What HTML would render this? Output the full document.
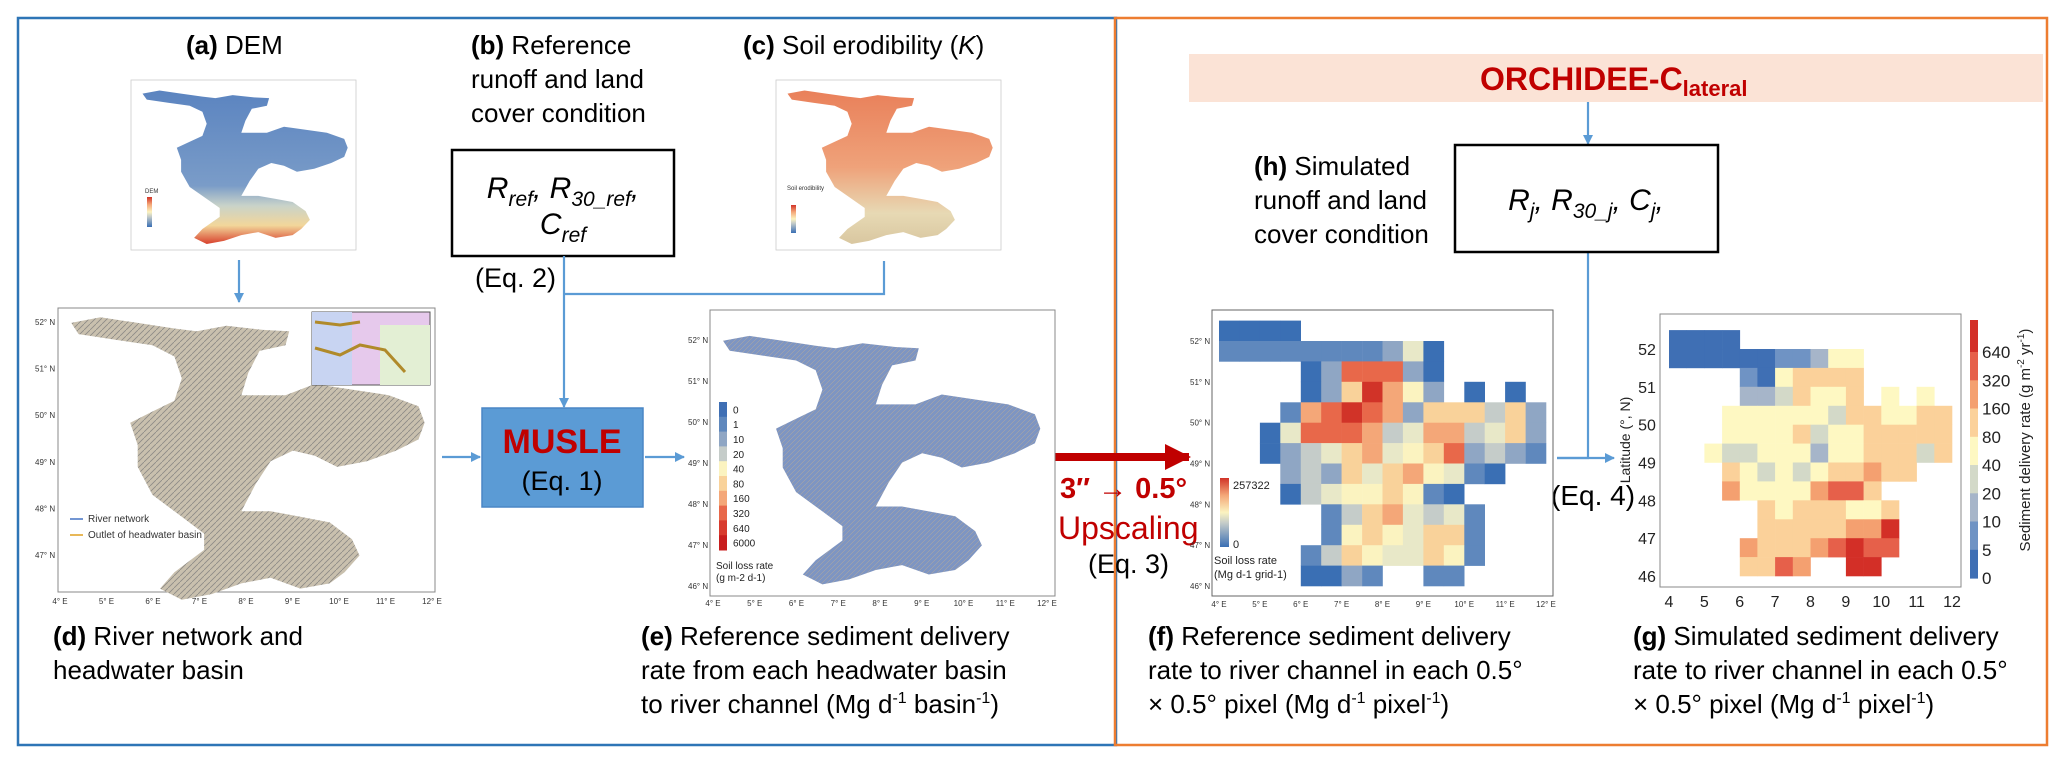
<!DOCTYPE html>
<html><head><meta charset="utf-8">
<style>
html,body{margin:0;padding:0;background:#fff;}
svg{display:block;font-family:"Liberation Sans",Arial,sans-serif;}
</style></head>
<body>
<svg id="fig" width="2067" height="764" viewBox="0 0 2067 764" xmlns="http://www.w3.org/2000/svg">
<defs>
<marker id="ah" markerWidth="10" markerHeight="10" refX="9" refY="5" orient="auto" markerUnits="userSpaceOnUse"><path d="M0,0 L10,5 L0,10 z" fill="#5b9bd5"/></marker>
<marker id="ahr" markerWidth="26" markerHeight="26" refX="24" refY="13" orient="auto" markerUnits="userSpaceOnUse"><path d="M0,0 L26,13 L0,26 z" fill="#c00000"/></marker>
<linearGradient id="demg" x1="0" y1="0" x2="0" y2="1">
<stop offset="0" stop-color="#5b84c0"/><stop offset="0.62" stop-color="#7a9cc8"/><stop offset="0.75" stop-color="#c9d3c9"/><stop offset="0.88" stop-color="#f2d69a"/><stop offset="1" stop-color="#d8402c"/></linearGradient>
<linearGradient id="kg" x1="0" y1="0" x2="0" y2="1">
<stop offset="0" stop-color="#e9805a"/><stop offset="0.5" stop-color="#efa27a"/><stop offset="0.8" stop-color="#e7d9b4"/><stop offset="1" stop-color="#d9c7a0"/></linearGradient>
<linearGradient id="fcb" x1="0" y1="1" x2="0" y2="0">
<stop offset="0" stop-color="#3a6fb4"/><stop offset="0.35" stop-color="#c5ccc9"/><stop offset="0.5" stop-color="#fbf3c0"/><stop offset="0.75" stop-color="#f4a778"/><stop offset="1" stop-color="#d13328"/></linearGradient>
<pattern id="tex" width="6" height="6" patternUnits="userSpaceOnUse"><rect width="6" height="6" fill="#c9c0ae"/><path d="M0,6 L6,0" stroke="#8c8a86" stroke-width="0.8"/></pattern>
<pattern id="texe" width="5" height="5" patternUnits="userSpaceOnUse"><rect width="5" height="5" fill="#7e95c2"/><path d="M0,5 L5,0" stroke="#b9aa95" stroke-width="0.5"/></pattern>
</defs>

<!-- panel boxes -->
<rect x="18" y="18" width="1098" height="727" fill="none" stroke="#2e75b6" stroke-width="2.5"/>
<rect x="1115" y="18" width="932" height="727" fill="none" stroke="#ed7d31" stroke-width="2.5"/>

<!-- titles -->
<g font-size="26" fill="#000">
<text x="186" y="54"><tspan font-weight="bold">(a)</tspan> DEM</text>
<text x="471" y="54"><tspan font-weight="bold">(b)</tspan> Reference</text>
<text x="471" y="88">runoff and land</text>
<text x="471" y="122">cover condition</text>
<text x="743" y="54"><tspan font-weight="bold">(c)</tspan> Soil erodibility (<tspan font-style="italic">K</tspan>)</text>
<text x="53" y="645"><tspan font-weight="bold">(d)</tspan> River network and</text>
<text x="53" y="679">headwater basin</text>
<text x="641" y="645"><tspan font-weight="bold">(e)</tspan> Reference sediment delivery</text>
<text x="641" y="679">rate from each headwater basin</text>
<text x="641" y="713">to river channel (Mg d<tspan font-size="16" dy="-10">-1</tspan><tspan dy="10"> basin</tspan><tspan font-size="16" dy="-10">-1</tspan><tspan dy="10">)</tspan></text>
<text x="1148" y="645"><tspan font-weight="bold">(f)</tspan> Reference sediment delivery</text>
<text x="1148" y="679">rate to river channel in each 0.5°</text>
<text x="1148" y="713">× 0.5° pixel (Mg d<tspan font-size="16" dy="-10">-1</tspan><tspan dy="10"> pixel</tspan><tspan font-size="16" dy="-10">-1</tspan><tspan dy="10">)</tspan></text>
<text x="1633" y="645"><tspan font-weight="bold">(g)</tspan> Simulated sediment delivery</text>
<text x="1633" y="679">rate to river channel in each 0.5°</text>
<text x="1633" y="713">× 0.5° pixel (Mg d<tspan font-size="16" dy="-10">-1</tspan><tspan dy="10"> pixel</tspan><tspan font-size="16" dy="-10">-1</tspan><tspan dy="10">)</tspan></text>
<text x="1254" y="175"><tspan font-weight="bold">(h)</tspan> Simulated</text>
<text x="1254" y="209">runoff and land</text>
<text x="1254" y="243">cover condition</text>
</g>

<!-- reference input box -->
<rect x="452" y="150" width="222" height="106" fill="#fff" stroke="#000" stroke-width="2.5"/>
<text x="563" y="198" font-size="30" font-style="italic" text-anchor="middle">R<tspan font-size="21" dy="8">ref</tspan><tspan dy="-8">, R</tspan><tspan font-size="21" dy="8">30_ref</tspan><tspan dy="-8">,</tspan></text>
<text x="563" y="234" font-size="30" font-style="italic" text-anchor="middle">C<tspan font-size="21" dy="8">ref</tspan></text>
<text x="475" y="287" font-size="27">(Eq. 2)</text>

<!-- connectors -->
<g stroke="#5b9bd5" stroke-width="2.2" fill="none">
<line x1="239" y1="260" x2="239" y2="302" marker-end="url(#ah)"/>
<line x1="564" y1="256" x2="564" y2="407" marker-end="url(#ah)"/>
<polyline points="884,261 884,294 564,294"/>
<line x1="442" y1="457" x2="480" y2="457" marker-end="url(#ah)"/>
<line x1="645" y1="457" x2="684" y2="457" marker-end="url(#ah)"/>
<line x1="1588" y1="102" x2="1588" y2="144" marker-end="url(#ah)"/>
<polyline points="1588,252 1588,458 1557,458"/>
<line x1="1557" y1="458" x2="1614" y2="458" marker-end="url(#ah)"/>
</g>

<!-- MUSLE box -->
<rect x="482" y="408" width="161" height="99" fill="#5b9bd5" stroke="#4a86c5" stroke-width="1.5"/>
<text x="562" y="453" font-size="34" font-weight="bold" fill="#c00000" text-anchor="middle">MUSLE</text>
<text x="562" y="490" font-size="27" text-anchor="middle">(Eq. 1)</text>

<!-- upscaling -->
<line x1="1055" y1="457" x2="1189" y2="457" stroke="#c00000" stroke-width="8" marker-end="url(#ahr)"/>
<text x="1060" y="498" font-size="29" font-weight="bold" fill="#c00000">3″ → 0.5°</text>
<text x="1058" y="539" font-size="32" fill="#c00000">Upscaling</text>
<text x="1088" y="573" font-size="27">(Eq. 3)</text>

<!-- ORCHIDEE band -->
<rect x="1189" y="54" width="854" height="48" fill="#fbe3d6"/>
<text x="1480" y="90" font-size="32" font-weight="bold" fill="#c00000">ORCHIDEE-C<tspan font-size="22" dy="6">lateral</tspan></text>

<!-- simulated inputs box -->
<rect x="1455" y="145" width="263" height="107" fill="#fff" stroke="#000" stroke-width="2.5"/>
<text x="1586" y="210" font-size="30" font-style="italic" text-anchor="middle">R<tspan font-size="21" dy="8">j</tspan><tspan dy="-8">, R</tspan><tspan font-size="21" dy="8">30_j</tspan><tspan dy="-8">, C</tspan><tspan font-size="21" dy="8">j</tspan><tspan dy="-8">,</tspan></text>
<text x="1551" y="505" font-size="28">(Eq. 4)</text>

<g id="maps"></g>
</svg>

<script>
// ---------- data ----------
const basinLon = [4.24,4.87,5.67,6.46,6.94,7.58,8.37,8.93,8.85,8.29,8.05,7.90,8.85,9.48,10.28,11.07,11.71,11.84,11.71,11.23,10.60,9.96,9.48,9.01,8.53,8.21,7.90,8.53,9.17,9.80,10.28,10.44,10.12,9.80,9.17,8.53,7.90,7.26,6.62,6.15,6.46,7.10,7.10,6.62,5.99,5.67,5.67,5.51,5.99,6.46,6.62,6.46,5.99,5.19,4.40];
const basinLat = [51.98,52.10,51.98,51.86,51.80,51.92,51.83,51.80,51.50,51.38,50.91,50.43,50.43,50.67,50.55,50.43,50.19,49.84,49.48,49.24,49.01,48.89,49.13,49.24,49.01,48.53,47.94,47.94,47.82,47.70,47.34,46.99,46.63,46.39,46.28,46.51,46.39,46.16,46.04,46.28,46.63,47.11,47.46,47.82,48.29,48.89,49.36,49.84,50.08,50.31,50.79,51.26,51.50,51.62,51.74];
const fGrid = [
"0000............",
"11111111240.....",
"....0288820.....",
"....0269752.0.0.",
"...1789872666362",
"..04888734773462",
"..02346745682321",
"...23264675410..",
"...034556510....",
".....13674341...",
".....15654661...",
"....136544651...",
"....0021..11...."];
const gGrid = [
"0000............",
"00000011244.....",
"....1045555.....",
"....2235445.4.4.",
"...4444443554455",
"...4444534455555",
"..43344424455535",
"...54343455655..",
"...644446775....",
".....54555445...",
".....55555668...",
"....655567877...",
"....5576..88...."];
const gBinLabels = ["0","5","10","20","40","80","160","320","640"];
const eBinLabels = ["0","1","10","20","40","80","160","320","640","6000"];
const fLatTicks = [52,51,50,49,48,47,46];
const fLonTicks = [4,5,6,7,8,9,10,11,12];
const gLatTicks = [52,51,50,49,48,47,46];
const gLonTicks = [4,5,6,7,8,9,10,11,12];
const dLatTicks = [52,51,50,49,48,47];

const fColors = ["#3a6fb4","#5f88bd","#8fa6c4","#c5ccc9","#e8e8c8","#fbf3c0","#f9d29a","#f4a778","#e8684a","#d13328"];
const gColors = ["#3f6fb4","#6f93c4","#a6b5c9","#d3d9c8","#fef8c2","#fbd19a","#f4a070","#e6604a","#d32f27"];
const eColors = ["#3f6fb4","#5f88bd","#8fa6c4","#c5ccc9","#fbf3c0","#f9d29a","#f4a778","#e8684a","#d83b2e","#c81e1e"];

const NS = "http://www.w3.org/2000/svg";
const root = document.getElementById("maps");
function mk(tag, attrs, parent){ const e=document.createElementNS(NS,tag); for(const k in attrs) e.setAttribute(k,attrs[k]); (parent||root).appendChild(e); return e; }
function axis(l0,l1,p0,p1){ return v => p0+(v-l0)*(p1-p0)/(l1-l0); }

function basin(name, xs, ys, fill, stroke){
  let pts = basinLon.map((lo,i)=> xs(lo).toFixed(1)+","+ys(basinLat[i]).toFixed(1)).join(" ");
  const p = mk("polygon",{points:pts, fill:fill, stroke:stroke||"none","stroke-width":"1"});
  
  
  return p;
}
function frame(name,x,y,w,h,col,sw){
  const r = mk("rect",{x:x,y:y,width:w,height:h,fill:"#fff",stroke:col||"#888","stroke-width":sw||"1"});
  
  
  return r;
}

// (a) DEM
frame("dem-map-frame",131,80,225,170,"#ccc","0.8");
{ const xs=axis(4,12,136,352), ys=axis(52.2,46,88,245);
  basin("dem-basin", xs, ys, "url(#demg)");
  const lg = mk("rect",{x:147,y:197,width:5,height:30,fill:"url(#fcb)"});
  
  
  const t = mk("text",{x:145,y:193,"font-size":"6",fill:"#333"}); t.textContent="DEM";
  
  
}
// (c) K
frame("k-map-frame",776,80,225,170,"#ccc","0.8");
{ const xs=axis(4,12,781,997), ys=axis(52.2,46,88,245);
  basin("k-basin", xs, ys, "url(#kg)");
  const lg = mk("rect",{x:791,y:205,width:5,height:28,fill:"url(#fcb)"});
  
  
  const t = mk("text",{x:787,y:190,"font-size":"6",fill:"#333"}); t.textContent="Soil erodibility";
  
  
}
// (d) river network
frame("river-map-frame",58,308,377,284,"#888");
{ const xs=axis(4,12,60,432), ys=axis(52,47,322,555);
  basin("river-basin", xs, ys, "url(#tex)");
  dLatTicks.forEach(v=>{ const t=mk("text",{x:35,y:ys(v)+3,"font-size":"8",fill:"#333"}); t.textContent=v+"° N";
      });
  fLonTicks.forEach(v=>{ const t=mk("text",{x:xs(v),y:604,"font-size":"8",fill:"#333","text-anchor":"middle"}); t.textContent=v+"° E";
      });
  const ins = mk("rect",{x:312,y:312,width:118,height:73,fill:"#e6c9ec",stroke:"#555","stroke-width":"1"});
   
  const p1 = mk("rect",{x:312,y:312,width:40,height:73,fill:"#c8d4f2"});  
  const p2 = mk("rect",{x:380,y:325,width:50,height:60,fill:"#e3efd4"});  
  const r1 = mk("polyline",{points:"315,322 340,325 360,322",fill:"none",stroke:"#b08a2a","stroke-width":"3"});  
  const r2 = mk("polyline",{points:"315,348 340,355 360,345 385,350 405,372",fill:"none",stroke:"#b08a2a","stroke-width":"3"});  
  const l1 = mk("line",{x1:70,y1:519,x2:83,y2:519,stroke:"#4472c4","stroke-width":"1.5"});  
  const t1 = mk("text",{x:88,y:522,"font-size":"10",fill:"#333"}); t1.textContent="River network";  
  const l2 = mk("line",{x1:70,y1:535,x2:83,y2:535,stroke:"#e0a020","stroke-width":"1.5"});  
  const t2 = mk("text",{x:88,y:538,"font-size":"10",fill:"#333"}); t2.textContent="Outlet of headwater basin";  
}
// (e) reference sediment
frame("e-map-frame",710,310,345,286,"#888");
{ const xs=axis(4,12,713,1047), ys=axis(52,46,340,586);
  basin("e-basin", xs, ys, "url(#texe)");
  fLatTicks.forEach(v=>{ const t=mk("text",{x:688,y:ys(v)+3,"font-size":"8",fill:"#333"}); t.textContent=v+"° N";
      });
  fLonTicks.forEach(v=>{ const t=mk("text",{x:xs(v),y:606,"font-size":"8",fill:"#333","text-anchor":"middle"}); t.textContent=v+"° E";
      });
  const segH = 148/eBinLabels.length;
  eBinLabels.forEach((lab,i)=>{
    const r = mk("rect",{x:719,y:402+i*segH,width:8,height:segH+0.5,fill:eColors[i]});
     
    const t = mk("text",{x:733,y:402+i*segH+segH/2+4,"font-size":"10",fill:"#222"}); t.textContent=lab;
     
  });
  const a=mk("text",{x:716,y:569,"font-size":"10",fill:"#222"}); a.textContent="Soil loss rate";  
  const b=mk("text",{x:716,y:581,"font-size":"10",fill:"#222"}); b.textContent="(g m-2 d-1)";  
}
// (f) reference grid heatmap
frame("f-map-frame",1212,310,341,286,"#666");
{ const fx=axis(4,12,1219,1546), fy=axis(52,46,341,586);
  fGrid.forEach((row,r)=>{ for(let c=0;c<row.length;c++){ const ch=row[c]; if(ch==='.') continue;
    const lon=4+c*0.5, lat=52.5-r*0.5;
    const x=fx(lon), y=fy(lat), w=fx(lon+0.5)-x, h=fy(lat-0.5)-y;
    const cell=mk("rect",{x:x.toFixed(1),y:y.toFixed(1),width:(w+0.3).toFixed(1),height:(h+0.3).toFixed(1),fill:fColors[+ch]});
    
    
  }});
  fLatTicks.forEach(v=>{ const t=mk("text",{x:1190,y:fy(v)+3,"font-size":"8",fill:"#333"}); t.textContent=v+"° N";
      });
  fLonTicks.forEach(v=>{ const t=mk("text",{x:fx(v),y:607,"font-size":"8",fill:"#333","text-anchor":"middle"}); t.textContent=v+"° E";
      });
  const cb=mk("rect",{x:1220,y:478,width:9,height:69,fill:"url(#fcb)"});  
  const m1=mk("text",{x:1233,y:489,"font-size":"11",fill:"#222"}); m1.textContent="257322";  
  const m0=mk("text",{x:1233,y:548,"font-size":"11",fill:"#222"}); m0.textContent="0";  
  const s1=mk("text",{x:1214,y:564,"font-size":"11",fill:"#222"}); s1.textContent="Soil loss rate";  
  const s2=mk("text",{x:1214,y:578,"font-size":"11",fill:"#222"}); s2.textContent="(Mg d-1 grid-1)";  
}
// (g) simulated grid heatmap
frame("g-map-frame",1660,314,301,273,"#888");
{ const gx=axis(4,12,1669,1952), gy=axis(52,46,349,576);
  gGrid.forEach((row,r)=>{ for(let c=0;c<row.length;c++){ const ch=row[c]; if(ch==='.') continue;
    const lon=4+c*0.5, lat=52.5-r*0.5;
    const x=gx(lon), y=gy(lat), w=gx(lon+0.5)-x, h=gy(lat-0.5)-y;
    const cell=mk("rect",{x:x.toFixed(1),y:y.toFixed(1),width:(w+0.3).toFixed(1),height:(h+0.3).toFixed(1),fill:gColors[+ch]});
    
    
  }});
  gLatTicks.forEach(v=>{ const t=mk("text",{x:1647,y:gy(v)+6,"font-size":"16",fill:"#222","text-anchor":"middle"}); t.textContent=v;
      });
  gLonTicks.forEach(v=>{ const t=mk("text",{x:gx(v),y:607,"font-size":"16",fill:"#222","text-anchor":"middle"}); t.textContent=v;
      });
  const yt=mk("text",{x:0,y:0,"font-size":"14",fill:"#222","text-anchor":"middle",transform:"translate(1630,440) rotate(-90)"}); yt.textContent="Latitude (°, N)";
   
  const cbTop=320, cbBot=578;
  const topSeg=mk("rect",{x:1970,y:cbTop,width:8,height:352-cbTop,fill:gColors[8]});  
  for(let i=gBinLabels.length-1;i>=1;i--){
    const yTop = 352 + (gBinLabels.length-1-i)*((cbBot-352)/(gBinLabels.length-1));
    const seg=mk("rect",{x:1970,y:yTop.toFixed(1),width:8,height:((cbBot-352)/(gBinLabels.length-1)+0.5).toFixed(1),fill:gColors[i-1]});
     
  }
  gBinLabels.forEach((lab,i)=>{ const yy = cbBot - i*((cbBot-352)/(gBinLabels.length-1));
    const t=mk("text",{x:1982,y:(yy+6).toFixed(1),"font-size":"17",fill:"#222"}); t.textContent=lab;
      });
  const ct=mk("text",{x:0,y:0,"font-size":"15",fill:"#222","text-anchor":"middle",transform:"translate(2030,440) rotate(-90)"});
  ct.innerHTML='Sediment delivery rate (g m<tspan font-size="10" dy="-6">-2</tspan><tspan dy="6"> yr</tspan><tspan font-size="10" dy="-6">-1</tspan><tspan dy="6">)</tspan>';
   
}
</script>
</body></html>
